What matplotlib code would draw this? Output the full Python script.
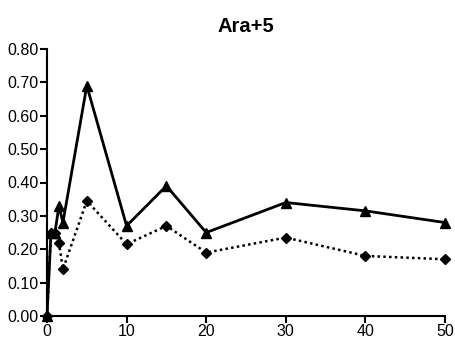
import numpy as np
import matplotlib
matplotlib.use("Agg")
from matplotlib import pyplot as plt

plt.rcParams['font.family'] = ['Liberation Sans', 'DejaVu Sans']

# time points and the two series
x = [0, 0.5, 1, 1.5, 2, 5, 10, 15, 20, 30, 40, 50]
tri = [0.0, 0.25, 0.25, 0.33, 0.28, 0.69, 0.27, 0.39, 0.25, 0.34, 0.315, 0.28]
dia = [0.0, 0.25, 0.25, 0.22, 0.14, 0.345, 0.215, 0.27, 0.19, 0.235, 0.18, 0.17]

xticks = [0, 10, 20, 30, 40, 50]
yticks = [0.0, 0.1, 0.2, 0.3, 0.4, 0.5, 0.6, 0.7, 0.8]

fig = plt.figure(figsize=(4.55, 3.39), dpi=100)
ax = fig.add_axes([47/455, 1-316/339, 398/455, 267/339])

ax.plot(x, dia, color='black', linestyle=(0, (1, 1.3)), linewidth=1.8, marker='D',
        markersize=5.5, clip_on=False, zorder=3)
ax.plot(x, tri, color='black', linestyle='-', linewidth=2, marker='^',
        markersize=7.5, clip_on=False, zorder=4)

ax.set_xlim(0, 50)
ax.set_ylim(0, 0.8)
ax.set_xticks(xticks)
ax.set_yticks(yticks)
ax.set_yticklabels(['%.2f' % v for v in yticks])
ax.spines['top'].set_visible(False)
ax.spines['right'].set_visible(False)
for s in ['left', 'bottom']:
    ax.spines[s].set_linewidth(1.5)
ax.tick_params(axis='both', direction='out', width=1.5, length=5, labelsize=11.5, pad=1)
ax.set_title('Ara+5', fontsize=14.5, fontweight='bold', pad=12)

fig.savefig('out.png', dpi=100)
